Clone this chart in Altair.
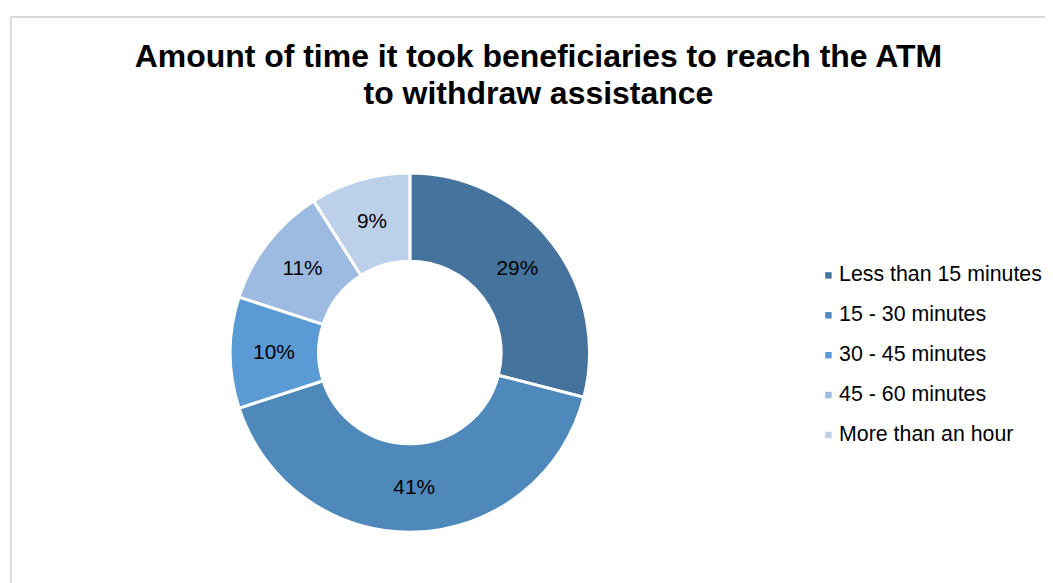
import altair as alt
import pandas as pd

categories = ["Less than 15 minutes", "15 - 30 minutes", "30 - 45 minutes",
              "45 - 60 minutes", "More than an hour"]
values = [29, 41, 10, 11, 9]
labels = ["29%", "41%", "10%", "11%", "9%"]
colors = ["#44739E", "#4F89BC", "#5B9BD5", "#9DBAE0", "#BCD0EA"]
title_lines = ["Amount of time it took beneficiaries to reach the ATM",
               "to withdraw assistance"]

df = pd.DataFrame({
    "category": categories,
    "value": values,
    "label": labels,
    "order": list(range(len(categories))),
})

W, H = 1045, 575
CX, CY = 405, 345
FONT = "Liberation Sans"

border = alt.Chart(pd.DataFrame({"k": [0]})).mark_rect(
    fillOpacity=0, stroke="#d9d9d9", strokeWidth=2
).encode(
    x=alt.value(2.8), x2=alt.value(1050), y=alt.value(6.8), y2=alt.value(590)
)

title = alt.Chart(pd.DataFrame({"k": [0]})).mark_text(
    text=title_lines, font=FONT, fontSize=32.2, fontWeight="bold",
    color="#000000", align="center", baseline="alphabetic", lineHeight=38
).encode(x=alt.value(534.5), y=alt.value(57))

base = alt.Chart(df).encode(
    theta=alt.Theta("value:Q", stack=True),
    order=alt.Order("order:Q"),
    x=alt.value(CX), y=alt.value(CY),
)

arcs = base.mark_arc(outerRadius=181, innerRadius=92, stroke="white", strokeWidth=3).encode(
    color=alt.Color(
        "category:N",
        scale=alt.Scale(domain=categories, range=colors),
        sort=categories,
        legend=alt.Legend(
            title=None, orient="none", legendX=816, legendY=256.5,
            symbolType="square", symbolSize=42, symbolStrokeWidth=0,
            labelFont=FONT, labelFontSize=21.5, labelColor="#000000",
            labelOffset=0, rowPadding=17.2, labelLimit=400, padding=0,
        ),
    )
)

text = base.mark_text(radius=137, font=FONT, fontSize=21, color="#000000").encode(
    text="label:N"
)

chart = alt.layer(border, title, arcs, text).properties(
    width=W, height=H, padding=0, autosize=alt.AutoSizeParams(type="none")
).configure_view(stroke=None)

chart.save("out.html", embed_options={"renderer": "svg", "actions": False})
